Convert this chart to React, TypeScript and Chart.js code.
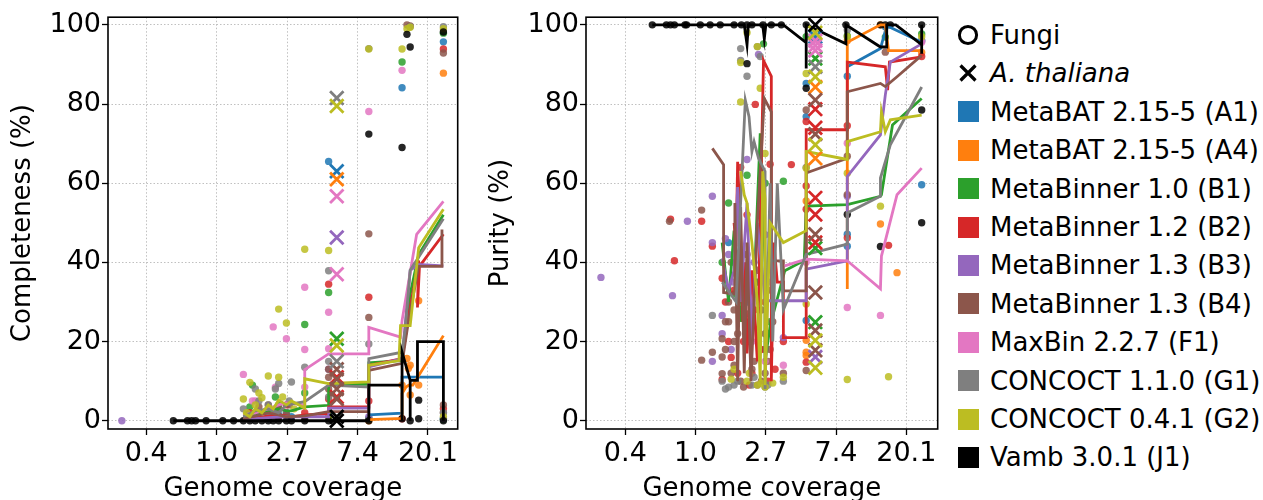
import React, { useEffect, useRef } from "react";
import { Chart, registerables } from "chart.js";
Chart.register(...registerables);
Chart.defaults.font.family = "'DejaVu Sans', sans-serif";

// ---------- categories ----------
const TOOLS = [
  "MetaBAT 2.15-5 (A1)",
  "MetaBAT 2.15-5 (A4)",
  "MetaBinner 1.0 (B1)",
  "MetaBinner 1.2 (B2)",
  "MetaBinner 1.3 (B3)",
  "MetaBinner 1.3 (B4)",
  "MaxBin 2.2.7 (F1)",
  "CONCOCT 1.1.0 (G1)",
  "CONCOCT 0.4.1 (G2)",
  "Vamb 3.0.1 (J1)",
];
const COLORS = ["#1f77b4", "#ff7f0e", "#2ca02c", "#d62728", "#9467bd", "#8c564b", "#e377c2", "#7f7f7f", "#bcbd22", "#000000"];
const X_TICK_EXPONENTS = [-1, 0, 1, 2, 3]; // ticks at e^k
const Y_TICKS = [0, 20, 40, 60, 80, 100];

// ---------- data: [genome coverage, %] ----------
// MetaBAT A1
const A1_complLine = [[8.67, 1.5], [13.9, 1.9], [13.9, 11], [25, 11]];
const A1_complDots = [[1.6, 1], [2.08, 0.5], [2.41, 1.5], [2.89, 1], [4.9, 65.5], [4.9, 1.5], [8.67, 0.5], [13.9, 84.1], [25, 95.7], [25, 0.5]];
const A1_complX = [[5.5, 63]];
const A1_purLine = [[8.67, 89.4], [13.9, 94], [15.2, 99.8], [25, 95.6]];
const A1_purDots = [[1.6, 45], [2.08, 30], [2.69, 18], [4.83, 85.2], [4.83, 76.8], [4.83, 25.3], [8.67, 87], [8.67, 47.1], [8.67, 44.1], [14.9, 99.5], [25, 59.6], [25, 96]];
const A1_purX = [[5.5, 97]];
// MetaBAT A4
const A4_complLine = [[8.67, 0.3], [13.9, 0.6], [13.9, 6.9], [14.7, 8.5], [15.3, 9], [16.2, 9], [25, 21.5]];
const A4_complDots = [[8.67, 0], [13.9, 9], [14.9, 15.7], [15.2, 13.2], [15.6, 6.5], [15.6, 14], [17.6, 9], [17.6, 30.3], [25, 87.8]];
const A4_complX = [[5.5, 61]];
const A4_purLine = [[8.67, 40], [8.67, 33.3], [8.67, 95.6], [13.9, 100], [14.9, 100], [15.6, 93.5], [25, 93.5]];
const A4_purDots = [[4.83, 55.5], [4.83, 20.3], [4.83, 17.3], [4.83, 16.5], [8.67, 96], [13.9, 49.7], [13.9, 100], [17.6, 37.4], [25, 93]];
const A4_purX = [[5.5, 84.3], [5.5, 66.3]];
// MetaBinner B1
const B1_complLine = [[1.46, 0.5], [1.73, 1.5], [2.08, 2.5], [2.41, 3], [2.69, 2.5], [2.89, 2.5], [3.49, 3.5], [4.9, 3.9], [4.9, 9.2], [8.67, 9.2], [8.67, 14.6], [13.9, 15.2], [14.9, 26], [15.6, 32], [17.6, 42], [25, 52]];
const B1_complDots = [[1.6, 3.5], [1.66, 9], [1.73, 2], [2.08, 1.5], [2.3, 6], [2.41, 4], [2.69, 2], [3.49, 24.3], [3.49, 7], [4.9, 32.4], [4.9, 1], [8.67, 0.5], [13.9, 90.6], [25, 97.9], [25, 0.3]];
const B1_complX = [[5.5, 20.7]];
const B1_purLine = [[1.46, 45], [1.6, 30], [1.73, 48], [1.9, 25], [2.08, 40], [2.23, 20], [2.51, 72.6], [2.69, 40], [2.69, 15], [2.89, 24], [3.56, 37.9], [4.7, 40.5], [4.83, 54.2], [8.67, 54.6], [13.9, 56.7], [14.1, 57.1], [16.5, 74.7], [25, 81.4]];
const B1_purDots = [[1.46, 40], [1.6, 55], [1.73, 32], [1.9, 26], [2.63, 95.2], [2.08, 62], [2.41, 35], [2.69, 60], [2.89, 25], [3.49, 60.5], [4.83, 97], [8.67, 97.2], [14.9, 96.9], [25, 97.7]];
const B1_purX = [[5.5, 91.5], [5.5, 43.6], [5.5, 24.9]];
// MetaBinner B2
const B2_complLine = [[1.46, 0.5], [1.9, 1], [2.41, 1.5], [2.89, 1], [3.49, 1.5], [4.9, 1.8], [4.9, 3.5], [8.67, 3.5], [8.67, 14], [13.9, 15.7], [15.2, 26], [17.6, 40.5], [17.3, 28.6], [17.8, 39], [25, 47.1]];
const B2_complDots = [[1.6, 2], [2.08, 3], [2.41, 1], [2.69, 4], [3.49, 2], [4.9, 34.5], [4.9, 5.5], [8.67, 31.2], [8.67, 5], [13.9, 0.5], [25, 93.9], [25, 3]];
const B2_complX = [[5.5, 11], [5.5, 6]];
const B2_purLine = [[1.73, 50], [1.78, 44], [1.82, 65.4], [1.9, 47], [1.96, 25], [2.02, 40], [2.08, 17], [2.23, 38], [2.41, 15], [2.63, 91], [2.94, 87], [2.94, 10], [3.05, 45], [3.2, 35], [3.49, 35], [3.49, 21], [4.83, 21], [4.83, 73.5], [8.67, 73.5], [8.67, 90.6], [14.9, 89.4], [15.4, 83.5], [15.8, 90.6], [25, 91.9]];
const B2_purDots = [[0.74, 40.4], [0.7, 50.9], [1.09, 50.4], [1.27, 44.1], [1.46, 10.4], [1.46, 36], [1.53, 30], [1.6, 20], [1.66, 16], [1.73, 33], [1.82, 12], [1.9, 64], [1.98, 20], [2.08, 52], [2.15, 9], [2.23, 12], [2.3, 28], [2.34, 79.9], [2.55, 18], [2.69, 30], [2.8, 10], [2.89, 64.8], [3.1, 13], [3.49, 20], [3.91, 64.7], [4.83, 75.6], [4.83, 59.3], [4.83, 53.4], [4.83, 14.8], [8.67, 46.2], [8.67, 74.5], [15.6, 44.3], [25, 92]];
const B2_purX = [[5.5, 78.7], [5.5, 74], [5.5, 56.3], [5.5, 52.1], [5.5, 45]];
// MetaBinner B3
const B3_complLine = [[1.46, 0.3], [2.08, 0.8], [2.69, 1], [3.49, 1], [4.9, 1], [4.9, 3.2], [8.67, 3.2], [8.67, 13.6], [13.9, 15.7], [15.6, 38], [17.6, 39.5], [25, 39.1]];
const B3_complDots = [[0.26, 0], [1.6, 0.5], [2.08, 1], [2.69, 2], [4.9, 13], [8.67, 1], [25, 0.5]];
const B3_complX = [[5.5, 46.3]];
const B3_purLine = [[1.46, 41], [1.6, 33], [1.73, 38], [1.82, 59], [1.9, 30], [2.08, 55], [2.23, 20], [2.41, 50], [2.69, 30.3], [3.49, 30.3], [4.83, 30.3], [4.83, 38.3], [8.67, 40.4], [8.67, 61.7], [13.9, 72.2], [14.9, 82.3], [16.0, 90.6], [25, 95.2]];
const B3_purDots = [[0.26, 36.2], [0.72, 31.6], [0.89, 50.4], [1.27, 56.7], [1.27, 45], [1.27, 15], [1.46, 26.6], [1.46, 22], [1.53, 46], [1.6, 42], [1.66, 18], [1.73, 35], [2.08, 66], [2.23, 25], [2.3, 40], [2.45, 92.5], [2.69, 47], [2.89, 35], [3.49, 21], [8.67, 56.7], [25, 96]];
const B3_purX = [[5.5, 16.1]];
// MetaBinner B4
const B4_complLine = [[1.46, 0.5], [1.73, 1.2], [2.08, 2], [2.41, 1.5], [2.69, 1], [3.49, 1.2], [4.9, 2.3], [8.67, 2.3], [8.67, 12.7], [13.9, 14.5], [15.2, 25], [17.6, 39], [24.5, 39], [24.5, 48.3]];
const B4_complDots = [[1.53, 1.5], [1.6, 1], [1.82, 3.5], [2.08, 4], [2.3, 2], [2.41, 3], [2.69, 1.5], [2.8, 4], [3.49, 0.5], [4.9, 8], [4.9, 11], [4.9, 13], [8.67, 47.2], [8.67, 26.1], [14.9, 100], [15.6, 99.7], [25, 92.9], [25, 4], [25, 2]];
const B4_complX = [[5.5, 13], [5.5, 10.5], [5.5, 8], [5.5, 5.5]];
const B4_purLine = [[1.27, 68.8], [1.49, 64.7], [1.49, 32.4], [1.75, 32], [1.75, 55], [1.82, 10], [1.9, 54], [2.0, 12], [2.08, 45], [2.2, 10], [2.41, 50], [2.66, 81.4], [2.94, 78], [2.94, 40.4], [3.49, 40.4], [3.49, 32.8], [4.83, 32.8], [4.83, 62.6], [8.67, 66.3], [8.67, 83.1], [13.9, 85.2], [14.9, 84.4], [17.6, 86.9], [25, 92.3]];
const B4_purDots = [[0.69, 50.4], [1.09, 53.2], [1.09, 15.3], [1.27, 17.3], [1.46, 20.7], [1.46, 16.1], [1.46, 11.9], [1.53, 25], [1.53, 18], [1.6, 30], [1.6, 25], [1.66, 40], [1.66, 12], [1.73, 28], [1.73, 20], [1.73, 14], [1.82, 22], [1.9, 35], [1.9, 10], [1.98, 30], [1.98, 8.5], [2.08, 42], [2.08, 27], [2.15, 20], [2.15, 35], [2.23, 13], [2.3, 15], [2.41, 38], [2.41, 9], [2.55, 28], [2.55, 10], [2.69, 22], [2.69, 12], [2.8, 15], [2.89, 33], [2.89, 18], [3.0, 25], [3.49, 12], [4.83, 78.5], [4.83, 12.7], [8.67, 66.8], [8.67, 57.1], [14.9, 93.1]];
const B4_purX = [[5.5, 81], [5.5, 72.4], [5.5, 47.1], [5.5, 32.4], [5.5, 22.8], [5.5, 17.8]];
// MaxBin F1
const F1_complLine = [[1.46, 1.5], [1.73, 2], [2.08, 3], [2.41, 4], [2.69, 4.5], [3.49, 4], [3.49, 12.9], [4.9, 16.9], [8.67, 16.9], [8.67, 23.6], [13.6, 21.1], [13.9, 25.3], [17.1, 47.1], [25, 55.4]];
const F1_complDots = [[1.46, 11.7], [1.66, 5], [1.73, 5], [2.08, 3], [2.23, 23.7], [2.3, 8.5], [2.69, 20.7], [3.49, 33.7], [3.49, 18], [3.49, 8.5], [4.9, 27.4], [4.9, 18.2], [8.67, 78.1], [13.9, 88.5]];
const F1_complX = [[5.5, 56.7], [5.5, 37]];
const F1_purLine = [[3.56, 39.1], [4.83, 40.8], [8.67, 40.4], [13.9, 33.3], [14.1, 41.6], [17.6, 57.1], [25, 63.8]];
const F1_purDots = [[2.23, 20], [2.69, 15], [3.49, 14], [4.83, 40], [8.67, 70.1], [8.67, 28.6], [13.9, 26.6], [25, 95.6]];
const F1_purX = [[5.5, 96], [5.5, 94.8], [5.5, 93.5]];
// CONCOCT G1
const G1_complLine = [[1.46, 1], [1.73, 2.5], [2.08, 3], [2.41, 2], [2.69, 4], [3.49, 4.8], [4.9, 9], [8.67, 8.5], [8.67, 15.7], [13.9, 17.3], [14.5, 22.8], [15.6, 38], [25, 51]];
const G1_complDots = [[1.46, 3], [1.53, 1], [1.73, 8], [1.82, 5], [2.08, 4], [2.3, 8], [2.41, 9.4], [2.8, 5], [2.89, 9.8], [3.49, 13.5], [4.9, 37.9], [4.9, 15], [4.9, 6], [8.67, 94], [8.67, 19.4], [15.6, 99.5], [25, 99.5], [25, 2]];
const G1_complX = [[5.5, 81.5], [5.5, 15]];
const G1_purLine = [[1.46, 35], [1.78, 30], [2.03, 81], [2.14, 76.8], [2.23, 68], [2.3, 70.5], [2.45, 66.3], [2.69, 63], [2.69, 8], [2.89, 60], [3.0, 20], [3.2, 60], [3.49, 28], [4.83, 42], [8.67, 44.6], [8.67, 52.5], [13.9, 56.7], [13.9, 61.3], [16.0, 69.7], [25, 84.3]];
const G1_purDots = [[1.27, 26.6], [1.46, 10], [1.53, 8], [1.6, 8.5], [1.73, 9], [1.82, 10], [1.9, 94], [1.9, 91], [2.08, 87], [2.23, 9], [2.3, 11], [2.41, 94.5], [2.51, 92], [2.69, 8.5], [2.8, 9], [3.49, 10], [8.67, 98.7], [4.83, 64]];
const G1_purX = [[5.5, 89.4]];
// CONCOCT G2
const G2_complLine = [[1.46, 2], [1.6, 1], [1.73, 3], [1.9, 2], [2.08, 4], [2.23, 3], [2.41, 5.2], [2.69, 4], [2.89, 5], [3.49, 3.2], [3.49, 10.6], [4.9, 9.4], [8.67, 9.8], [8.67, 14], [13.3, 15.2], [13.6, 24], [15.6, 24], [17.6, 43.7], [25, 53.4]];
const G2_complDots = [[1.46, 5.5], [1.53, 2], [1.6, 9.7], [1.73, 4], [1.82, 7], [1.9, 5.8], [2.08, 11.3], [2.15, 3], [2.41, 28.2], [2.41, 11], [2.55, 6], [2.69, 24.7], [3.0, 3], [3.49, 43.3], [4.9, 43], [4.9, 1], [8.67, 93.9], [13.9, 93.9], [14.9, 99], [15.6, 99.4], [25, 99], [25, 1]];
const G2_complX = [[5.5, 79.5], [5.5, 19]];
const G2_purLine = [[1.9, 63], [2.0, 57], [2.08, 55], [2.23, 45], [2.41, 30], [2.51, 10], [2.6, 63], [2.69, 56], [2.69, 9], [2.89, 50], [3.49, 45], [4.83, 48], [4.83, 68], [8.67, 66], [8.67, 70.5], [13.9, 73], [14.1, 78], [14.9, 73], [16.0, 76], [25, 77.2]];
const G2_purDots = [[1.66, 10.5], [1.9, 90.5], [1.9, 80.5], [2.08, 98], [2.15, 12], [2.41, 94.5], [2.51, 84], [2.55, 9.5], [2.69, 67.5], [1.73, 13], [2.08, 10], [2.41, 9], [2.69, 8.5], [3.0, 9.5], [3.49, 11], [4.83, 87.7], [4.83, 63.8], [4.83, 29.5], [8.67, 97], [8.67, 62.5], [8.67, 10.4], [13.9, 54.2], [15.6, 11.1], [25, 97]];
const G2_purX = [[5.5, 98], [5.5, 86.9], [5.5, 69.7], [5.5, 20.3], [5.5, 13.4]];
// Vamb J1
const J1_complLine = [[0.54, 0], [8.67, 0], [8.67, 9], [13.9, 9], [13.9, 0], [13.9, 17.3], [15.6, 10.2], [15.6, 0], [15.6, 10.2], [17.3, 10.2], [17.3, 20], [25, 20], [25, 0]];
const J1_complDots = [[0.54, 0], [0.66, 0], [0.7, 0], [0.74, 0], [0.86, 0], [1.09, 0], [1.27, 0], [1.46, 0], [1.6, 0], [1.73, 0], [1.9, 0], [2.08, 0], [2.23, 0], [2.41, 0], [2.69, 0], [2.89, 0], [3.49, 0], [4.9, 0], [8.67, 0], [8.67, 72.4], [13.9, 69], [13.9, 0.5], [14.9, 97.6], [15.6, 94.4], [15.6, 0], [17.6, 5.2], [17.6, 0.5], [25, 98.2], [25, 0]];
const J1_complX = [[5.5, 0], [5.5, 1]];
const J1_purLine = [[0.54, 100], [2.0, 100], [2.08, 95], [2.12, 100], [2.6, 100], [2.66, 96.5], [2.72, 100], [3.49, 100], [4.83, 95.5], [4.83, 89], [4.83, 100], [8.5, 95.2], [8.5, 100], [13.9, 94.4], [15.2, 94.4], [15.2, 100], [17.3, 100], [25, 95], [25, 92.7], [25, 100]];
const J1_purDots = [[0.54, 100], [0.66, 100], [0.7, 100], [0.74, 100], [0.86, 100], [0.88, 100], [1.07, 100], [1.23, 100], [1.42, 100], [1.73, 100], [1.92, 100], [2.08, 100], [2.23, 100], [2.61, 100], [2.94, 100], [3.39, 100], [4.83, 100], [4.83, 84], [2.08, 90.2], [8.5, 100], [8.67, 52.1], [13.9, 100], [13.9, 44], [14.9, 100], [16.0, 100], [25, 100], [25, 78.5], [25, 50]];
const J1_purX = [[5.5, 100]];

const complLines = [A1_complLine, A4_complLine, B1_complLine, B2_complLine, B3_complLine, B4_complLine, F1_complLine, G1_complLine, G2_complLine, J1_complLine];
const complDots = [A1_complDots, A4_complDots, B1_complDots, B2_complDots, B3_complDots, B4_complDots, F1_complDots, G1_complDots, G2_complDots, J1_complDots];
const complXs = [A1_complX, A4_complX, B1_complX, B2_complX, B3_complX, B4_complX, F1_complX, G1_complX, G2_complX, J1_complX];
const purLines = [A1_purLine, A4_purLine, B1_purLine, B2_purLine, B3_purLine, B4_purLine, F1_purLine, G1_purLine, G2_purLine, J1_purLine];
const purDots = [A1_purDots, A4_purDots, B1_purDots, B2_purDots, B3_purDots, B4_purDots, F1_purDots, G1_purDots, G2_purDots, J1_purDots];
const purXs = [A1_purX, A4_purX, B1_purX, B2_purX, B3_purX, B4_purX, F1_purX, G1_purX, G2_purX, J1_purX];

// ---------- helpers ----------
const TICK_FONT = 27;
const LABEL_FONT = 26;
const toPts = (arr: number[][]) => arr.map(([x, y]) => ({ x, y }));
function rgba(hex: string, a: number) {
  const n = parseInt(hex.slice(1), 16);
  return `rgba(${(n >> 16) & 255},${(n >> 8) & 255},${n & 255},${a})`;
}

function buildDatasets(lines: number[][][], dots: number[][][], xs: number[][][]) {
  const ds: any[] = [];
  TOOLS.forEach((name, i) => {
    ds.push({
      label: name + " dots",
      data: toPts(dots[i]),
      pointRadius: 3.7,
      pointBackgroundColor: rgba(COLORS[i], 0.85),
      pointBorderWidth: 0,
      order: 300 - i,
    });
    ds.push({
      label: name,
      data: toPts(lines[i]),
      showLine: true,
      borderColor: COLORS[i],
      borderWidth: 2.8,
      pointRadius: 0,
      fill: false,
      tension: 0,
      order: 200 - i,
    });
    ds.push({
      label: name + " A. thaliana",
      data: toPts(xs[i]),
      pointStyle: "crossRot",
      pointRadius: 9.5,
      pointBorderColor: COLORS[i],
      pointBorderWidth: 2.8,
      pointBackgroundColor: COLORS[i],
      order: 100 - i,
    });
  });
  return ds;
}

const boxPlugin = {
  id: "box",
  afterDatasetsDraw(chart: any) {
    const { ctx, chartArea: a } = chart;
    ctx.save();
    ctx.strokeStyle = "#000";
    ctx.lineWidth = 1.6;
    ctx.strokeRect(a.left, a.top, a.right - a.left, a.bottom - a.top);
    ctx.restore();
  },
};

function makeConfig(opts: {
  lines: number[][][];
  dots: number[][][];
  xs: number[][][];
  yTitle: string;
  yWidth: number;
  titlePad: number;
  padRight: number;
  xMinExp: number;
  xMaxExp: number;
}) {
  return {
    type: "scatter",
    data: { datasets: buildDatasets(opts.lines, opts.dots, opts.xs) },
    options: {
      animation: false,
      responsive: false,
      maintainAspectRatio: false,
      events: [],
      layout: { padding: { left: 0, right: opts.padRight, top: 15, bottom: 0 } },
      plugins: { legend: { display: false }, tooltip: { enabled: false } },
      scales: {
        x: {
          type: "logarithmic",
          min: Math.exp(opts.xMinExp),
          max: Math.exp(opts.xMaxExp),
          afterBuildTicks: (s: any) => {
            s.ticks = X_TICK_EXPONENTS.map((k) => ({ value: Math.exp(k) }));
          },
          afterFit: (s: any) => {
            s.height = 71;
          },
          ticks: {
            callback: (v: any) => Number(v).toFixed(1),
            color: "#000",
            font: { size: TICK_FONT },
            padding: 3,
            maxRotation: 0,
            autoSkip: false,
          },
          grid: { color: "#b0b0b0", lineWidth: 0.8, tickColor: "#000", tickLength: 6, tickWidth: 1.3 },
          border: { display: false, dash: [1.5, 2] },
          title: { display: true, text: "Genome coverage", color: "#000", font: { size: LABEL_FONT, lineHeight: 0.8 }, padding: { top: 0, bottom: 0 } },
        },
        y: {
          type: "linear",
          min: -2.09,
          max: 101.93,
          afterBuildTicks: (s: any) => {
            s.ticks = Y_TICKS.map((v) => ({ value: v }));
          },
          afterFit: (s: any) => {
            s.width = opts.yWidth;
          },
          ticks: { color: "#000", font: { size: TICK_FONT }, padding: 1 },
          grid: { color: "#b0b0b0", lineWidth: 0.8, tickColor: "#000", tickLength: 6, tickWidth: 1.3 },
          border: { display: false, dash: [1.5, 2] },
          title: { display: true, text: opts.yTitle, color: "#000", font: { size: LABEL_FONT }, padding: { top: opts.titlePad, bottom: 0 } },
        },
      },
    },
    plugins: [boxPlugin],
  } as any;
}

function Panel(props: { left: number; width: number; config: () => any }) {
  const ref = useRef<HTMLCanvasElement>(null);
  useEffect(() => {
    const chart = new Chart(ref.current as HTMLCanvasElement, props.config());
    return () => chart.destroy();
  }, []);
  return (
    <canvas
      ref={ref}
      width={props.width}
      height={500}
      style={{ position: "absolute", left: props.left, top: 0, width: props.width, height: 500 }}
    />
  );
}

const LEGEND_TOP = 35;
const LEGEND_STEP = 38.4;

function LegendMarker({ kind, color }: { kind: string; color: string }) {
  if (kind === "circle")
    return (
      <svg width={24} height={24} style={{ position: "absolute", left: 956, top: -12 }}>
        <circle cx={12} cy={12} r={8.6} fill="none" stroke="#000" strokeWidth={3} />
      </svg>
    );
  if (kind === "cross")
    return (
      <svg width={24} height={24} style={{ position: "absolute", left: 956, top: -12 }}>
        <path d="M4.5 4.5 L19.5 19.5 M19.5 4.5 L4.5 19.5" stroke="#000" strokeWidth={3.2} />
      </svg>
    );
  return <div style={{ position: "absolute", left: 958, top: -10.5, width: 21, height: 21, background: color }} />;
}

export default function App() {
  const items = [
    { label: "Fungi", kind: "circle", color: "#000", italic: false },
    { label: "A. thaliana", kind: "cross", color: "#000", italic: true },
    ...TOOLS.map((t, i) => ({ label: t, kind: "square", color: COLORS[i], italic: false })),
  ];
  return (
    <div
      style={{
        position: "absolute",
        left: 0,
        top: 0,
        width: 1263,
        height: 500,
        background: "#fff",
        fontFamily: "'DejaVu Sans', sans-serif",
        overflow: "hidden",
      }}
    >
      <Panel
        left={0}
        width={470}
        config={() =>
          makeConfig({ lines: complLines, dots: complDots, xs: complXs, yTitle: "Completeness (%)", yWidth: 108, titlePad: 8, padRight: 9, xMinExp: -1.544, xMaxExp: 3.422 })
        }
      />
      <Panel
        left={470}
        width={480}
        config={() =>
          makeConfig({ lines: purLines, dots: purDots, xs: purXs, yTitle: "Purity (%)", yWidth: 116, titlePad: 16, padRight: 9, xMinExp: -1.56, xMaxExp: 3.447 })
        }
      />
      {items.map((it, i) => (
        <div key={it.label} style={{ position: "absolute", left: 0, top: LEGEND_TOP + i * LEGEND_STEP, width: 1263, height: 0 }}>
          <LegendMarker kind={it.kind} color={it.color} />
          <div
            style={{
              position: "absolute",
              left: 990,
              top: -15,
              height: 30,
              lineHeight: "30px",
              fontSize: LABEL_FONT,
              whiteSpace: "nowrap",
              fontStyle: it.italic ? "italic" : "normal",
              color: "#000",
            }}
          >
            {it.label}
          </div>
        </div>
      ))}
    </div>
  );
}
